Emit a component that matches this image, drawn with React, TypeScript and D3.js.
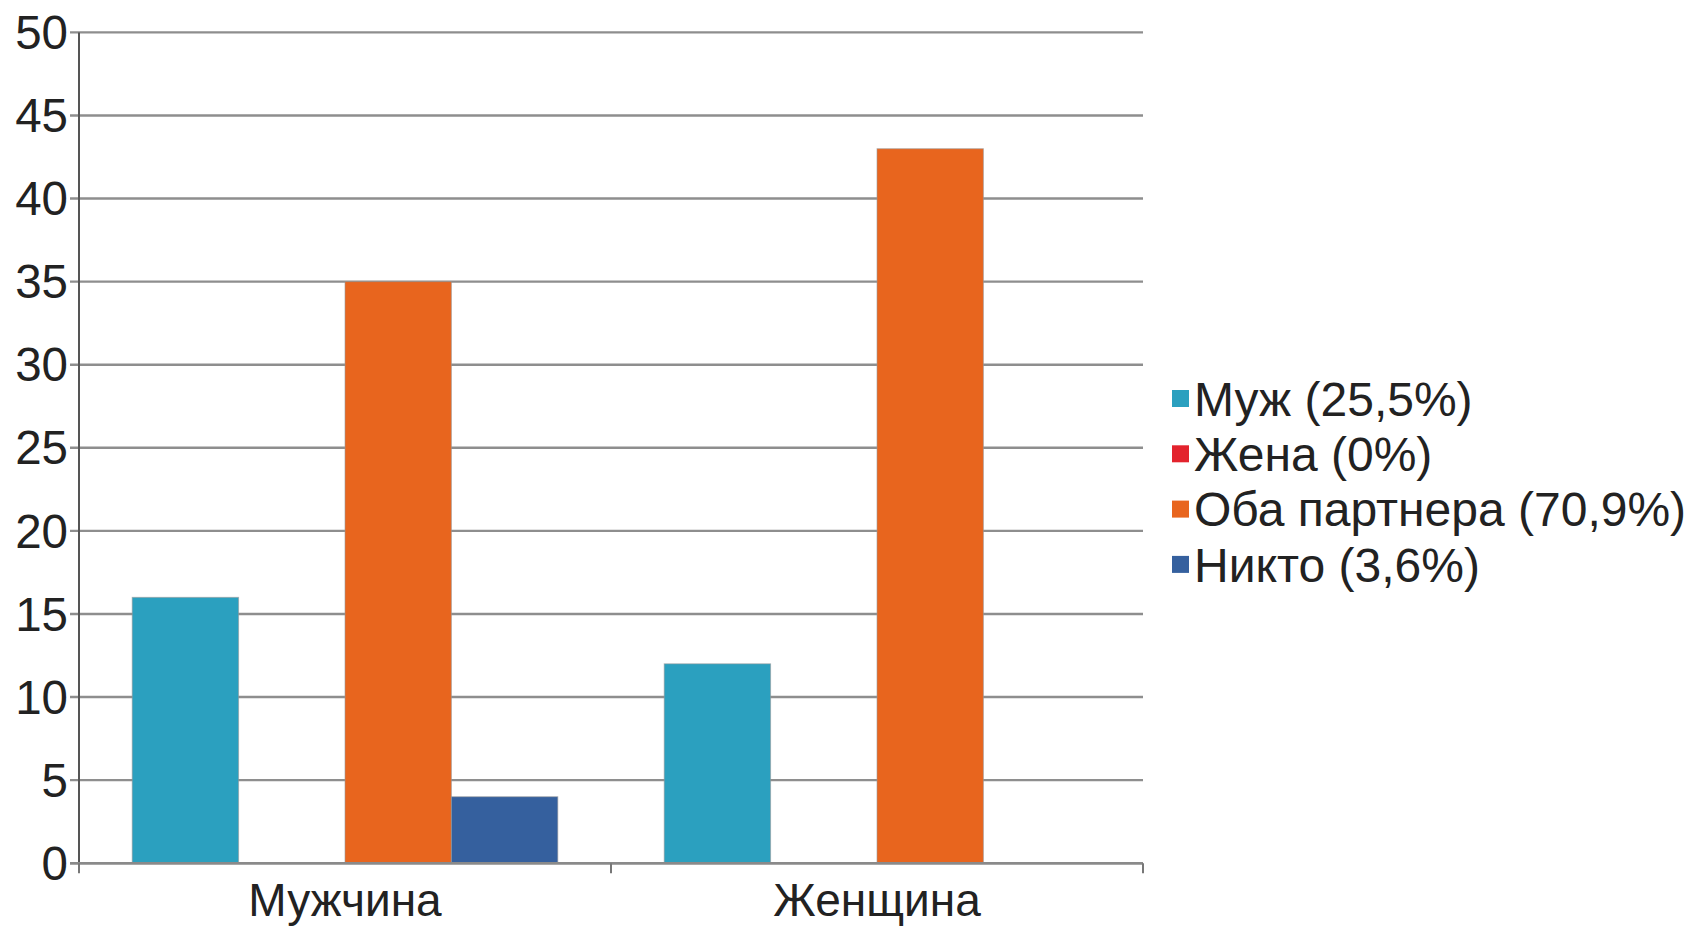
import React from "react";
import * as d3 from "d3";

const categories = ["Мужчина", "Женщина"];
const seriesNames = ["Муж (25,5%)", "Жена (0%)", "Оба партнера (70,9%)", "Никто (3,6%)"];
const seriesColors = ["#2ba0bf", "#e3232d", "#e8651e", "#35609e"];
const valuesMuzh = [16, 12];
const valuesZhena = [0, 0];
const valuesOba = [35, 43];
const valuesNikto = [4, 0];
const yTicks = [0, 5, 10, 15, 20, 25, 30, 35, 40, 45, 50];

const seriesValues = [valuesMuzh, valuesZhena, valuesOba, valuesNikto];

const W = 1694;
const H = 928;
const left = 79;
const right = 1143;
const top = 32.4;
const bottom = 863.2;
const font = "'Liberation Sans', Arial, Helvetica, sans-serif";

export default function App() {
  const x0 = d3.scaleBand<string>().domain(categories).range([left, right]).padding(0);
  const x1 = d3
    .scaleBand<string>()
    .domain(seriesNames)
    .range([0, x0.bandwidth()])
    .paddingInner(0)
    .paddingOuter(0.5);
  const y = d3.scaleLinear().domain([0, 50]).range([bottom, top]);

  const boundaries = [left, ...categories.map((c) => (x0(c) as number) + x0.bandwidth())];

  return (
    <svg
      width={W}
      height={H}
      style={{ position: "absolute", left: 0, top: 0, background: "#fff" }}
      fontFamily={font}
    >
      {yTicks.map((t) => (
        <line
          key={"g" + t}
          x1={left - 9}
          x2={right}
          y1={y(t)}
          y2={y(t)}
          stroke="#8e8e8e"
          strokeWidth={2.4}
        />
      ))}
      {yTicks.map((t) => (
        <text
          key={"l" + t}
          x={68}
          y={y(t)}
          dy="0.35em"
          textAnchor="end"
          fontSize={47.5}
          fill="#222"
        >
          {t}
        </text>
      ))}
      {categories.map((c, ci) =>
        seriesNames.map((s, si) => {
          const v = seriesValues[si][ci];
          if (v <= 0) return null;
          const bx = (x0(c) as number) + (x1(s) as number);
          return (
            <rect
              key={c + s}
              x={bx}
              y={y(v)}
              width={x1.bandwidth()}
              height={y(0) - y(v)}
              fill={seriesColors[si]}
              stroke="#9a9a9a"
              strokeOpacity={0.6}
              strokeWidth={1}
            />
          );
        })
      )}
      <line x1={left} x2={left} y1={top} y2={bottom} stroke="#555" strokeWidth={2} />
      <line x1={left - 9} x2={right} y1={bottom} y2={bottom} stroke="#8a8a8a" strokeWidth={2.4} />
      {boundaries.map((b, i) => (
        <line key={"xt" + i} x1={b} x2={b} y1={bottom} y2={bottom + 10} stroke="#777" strokeWidth={2} />
      ))}
      {categories.map((c) => (
        <text
          key={"c" + c}
          x={(x0(c) as number) + x0.bandwidth() / 2}
          y={916}
          textAnchor="middle"
          fontSize={46}
          fill="#222"
        >
          {c}
        </text>
      ))}
      {seriesNames.map((s, i) => {
        const cy = 399 + i * 55.3;
        return (
          <g key={"lg" + s}>
            <rect x={1172} y={cy - 9} width={17} height={17} fill={seriesColors[i]} />
            <text x={1194} y={cy} dy="0.35em" fontSize={48} fill="#222">
              {s}
            </text>
          </g>
        );
      })}
    </svg>
  );
}
